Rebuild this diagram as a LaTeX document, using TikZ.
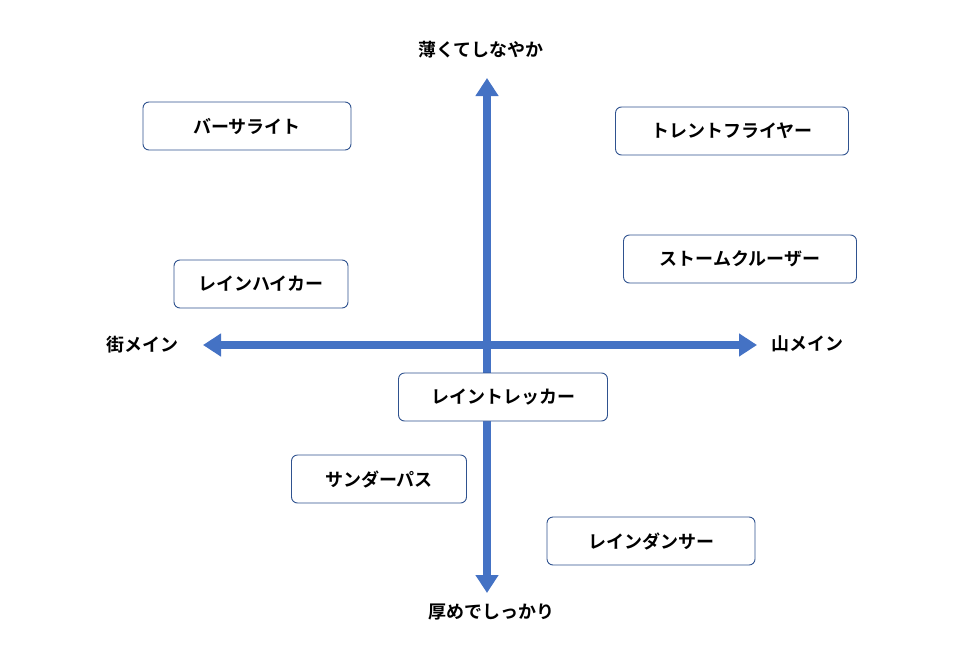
\documentclass[tikz,border=0pt]{standalone}
\usepackage{fontspec}
\setmainfont{Noto Sans CJK JP}[BoldFont={Noto Sans CJK JP Bold}]
\usetikzlibrary{arrows.meta}

\tikzset{
    axisline/.style={line width=8pt, draw={rgb,255:red,68;green,114;blue,196}, {Triangle[width=22pt,length=18pt]}-{Triangle[width=22pt,length=18pt]}},
    itembox/.style={draw={rgb,255:red,47;green,82;blue,143}, line width=0.9pt, rounded corners=6pt, fill=white, minimum height=48pt, font=\fontsize{18}{20}\selectfont\bfseries},
    axislabel/.style={font=\fontsize{18}{20}\selectfont\bfseries}
}

\begin{document}
\begin{tikzpicture}[x=1pt,y=-1pt]
    \useasboundingbox (0,0) rectangle (976,645);

    % axis ends
    \coordinate (Top) at (487,78);
    \coordinate (Bottom) at (487,593);
    \coordinate (Left) at (203,345);
    \coordinate (Right) at (757,345);
    \draw[axisline] (Left) -- (Right);
    \draw[axisline] (Top) -- (Bottom);

    \node[axislabel] (Thin) at (481,50) {薄くてしなやか};
    \node[axislabel] (Thick) at (491,612) {厚めでしっかり};
    \node[axislabel] (Town) at (142,345) {街メイン};
    \node[axislabel] (Mountain) at (807,344) {山メイン};

    % products
    \node[itembox, minimum width=208pt] (Versalite) at (247,126) {バーサライト};
    \node[itembox, minimum width=233pt] (Torrent) at (732,131) {トレントフライヤー};
    \node[itembox, minimum width=233pt] (Storm) at (740,259) {ストームクルーザー};
    \node[itembox, minimum width=174pt] (Hiker) at (261,284) {レインハイカー};
    \node[itembox, minimum width=209pt] (Trekker) at (503,397) {レイントレッカー};
    \node[itembox, minimum width=175pt] (Thunder) at (379,479) {サンダーパス};
    \node[itembox, minimum width=208pt] (Dancer) at (651,541) {レインダンサー};
\end{tikzpicture}
\end{document}
